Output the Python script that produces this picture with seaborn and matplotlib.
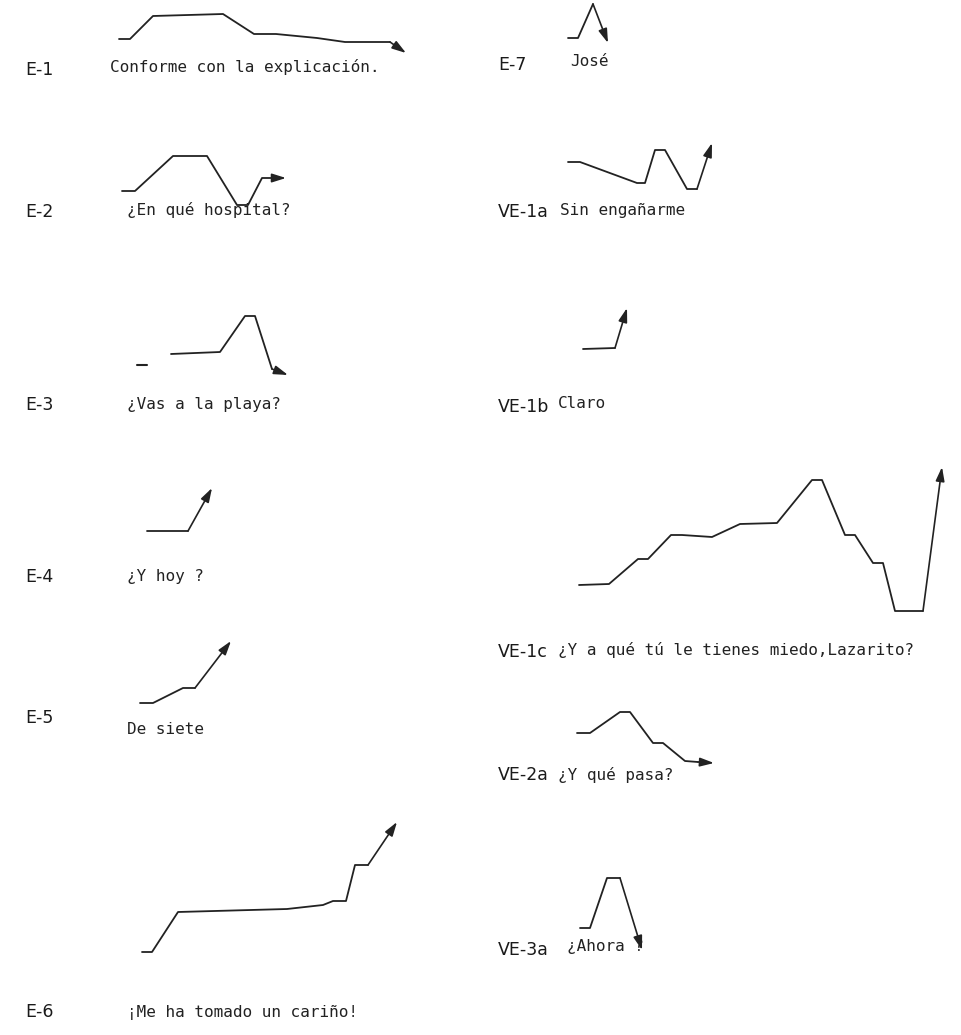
import pandas as pd
import seaborn as sns
import matplotlib.pyplot as plt

# intonation contours (x = time, y = pitch, page units)
e1_x = [119, 130, 153, 223, 254, 276, 317, 345, 390, 406]
e1_y = [39, 39, 16, 14, 34, 34, 38, 42, 42, 53]
e2_x = [122, 135, 173, 207, 237, 248, 262, 273, 286]
e2_y = [191, 191, 156, 156, 205, 205, 178, 178, 178]
e3_dash_x = [137, 147]
e3_dash_y = [365, 365]
e3_x = [171, 220, 245, 255, 272, 288]
e3_y = [354, 352, 316, 316, 369, 375]
e4_x = [147, 188, 212]
e4_y = [531, 531, 488]
e5_x = [140, 153, 183, 195, 231]
e5_y = [703, 703, 688, 688, 641]
e6_x = [142, 152, 178, 287, 323, 333, 346, 355, 368, 397]
e6_y = [952, 952, 912, 909, 905, 901, 901, 865, 865, 822]
e7_x = [568, 578, 593, 608]
e7_y = [38, 38, 4, 43]
ve1a_x = [568, 580, 637, 645, 655, 665, 687, 697, 712]
ve1a_y = [162, 162, 183, 183, 150, 150, 189, 189, 143]
ve1b_x = [583, 615, 627]
ve1b_y = [349, 348, 308]
ve1c_x = [579, 609, 638, 648, 671, 682, 712, 740, 777, 812, 822, 845, 855, 873, 883, 895, 923, 942]
ve1c_y = [585, 584, 559, 559, 535, 535, 537, 524, 523, 480, 480, 535, 535, 563, 563, 611, 611, 467]
ve2a_x = [577, 590, 620, 630, 653, 663, 685, 698, 714]
ve2a_y = [733, 733, 712, 712, 743, 743, 761, 762, 763]
ve3a_x = [580, 590, 607, 620, 642]
ve3a_y = [928, 928, 878, 878, 950]

codes = ['E-1', 'E-2', 'E-3', 'E-4', 'E-5', 'E-6',
         'E-7', 'VE-1a', 'VE-1b', 'VE-1c', 'VE-2a', 'VE-3a']
phrases = ['Conforme con la explicación.', '¿En qué hospital?', '¿Vas a la playa?',
           '¿Y hoy ?', 'De siete', '¡Me ha tomado un cariño!',
           'José', 'Sin engañarme', 'Claro', '¿Y a qué tú le tienes miedo,Lazarito?',
           '¿Y qué pasa?', '¿Ahora ?']

contours = [(e1_x, e1_y), (e2_x, e2_y), (e3_x, e3_y), (e4_x, e4_y), (e5_x, e5_y),
            (e6_x, e6_y), (e7_x, e7_y), (ve1a_x, ve1a_y), (ve1b_x, ve1b_y),
            (ve1c_x, ve1c_y), (ve2a_x, ve2a_y), (ve3a_x, ve3a_y)]

# where each code / phrase sits on the page
code_pos = [(25, 70), (25, 212), (25, 405), (25, 577), (25, 718), (25, 1012),
            (498, 65), (498, 212), (498, 407), (498, 652), (498, 775), (498, 950)]
phrase_pos = [(110, 67), (127, 210), (127, 404), (127, 577), (127, 730), (127, 1012),
              (570, 62), (560, 210), (558, 404), (558, 650), (558, 775), (567, 947)]

sns.set_theme(style='white')
fig = plt.figure(figsize=(9.62, 10.35), dpi=100)
ax = fig.add_axes([0, 0, 1, 1])

for i, (cx, cy) in enumerate(contours):
    df = pd.DataFrame({'t': cx[:-1], 'f0': cy[:-1]})
    sns.lineplot(x='t', y='f0', data=df, ax=ax, sort=False, estimator=None,
                 color='#222222', linewidth=1.3)
    # final movement drawn as arrow
    ax.annotate('', xy=(cx[-1], cy[-1]), xytext=(cx[-2], cy[-2]),
                arrowprops=dict(arrowstyle='-|>,head_length=0.7,head_width=0.22',
                                color='#222222', lw=1.2, shrinkA=0, shrinkB=0))

dash = pd.DataFrame({'t': e3_dash_x, 'f0': e3_dash_y})
sns.lineplot(x='t', y='f0', data=dash, ax=ax, sort=False, estimator=None,
             color='#222222', linewidth=1.5)

for code, (x, y) in zip(codes, code_pos):
    ax.text(x, y, code, fontsize=12.5, family='DejaVu Sans', fontweight='medium',
            color='#1a1a1a', va='center', ha='left')
for phrase, (x, y) in zip(phrases, phrase_pos):
    ax.text(x, y, phrase, fontsize=11.5, family='DejaVu Sans Mono', color='#222222',
            va='center', ha='left')

ax.set_xlim(0, 962)
ax.set_ylim(1035, 0)
ax.set_axis_off()
fig.savefig('out.png', dpi=100, facecolor='white')
